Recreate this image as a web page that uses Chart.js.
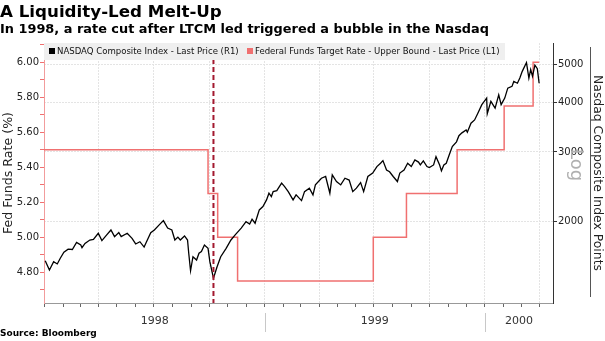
<!DOCTYPE html>
<html>
<head>
<meta charset="utf-8">
<script src="https://cdn.jsdelivr.net/npm/chart.js@4"></script>
<style>
  body { margin: 0; background: #fff; }
  #wrap { position: relative; width: 605px; height: 341px; overflow: hidden; font-family: "DejaVu Sans", sans-serif; }
  #chart { position: absolute; left: 0; top: 0; }
  .title { position: absolute; left: 0; top: 1px; font-weight: bold; font-size: 16.7px; color: #000; white-space: nowrap; }
  .subtitle { position: absolute; left: 0; top: 21px; font-weight: bold; font-size: 12.9px; color: #000; white-space: nowrap; }
  .source { position: absolute; left: 0; top: 328px; font-weight: bold; font-size: 9px; color: #000; }
  .legend { position: absolute; left: 44px; top: 43px; width: 461px; height: 17px; background: #efefef; font-size: 9.5px; color: #111; white-space: nowrap; }
  .legend span.sw { display: inline-block; width: 6px; height: 6px; margin: 0 2px 0 5px; vertical-align: 0px; }
  .legend .item { position: absolute; top: 2px; font-family: "DejaVu Sans Condensed", "DejaVu Sans", sans-serif; }
  .log { position: absolute; left: 570px; top: 149px; font-size: 18px; color: #b0b0b0; transform-origin: 0 0; transform: rotate(90deg) translate(0, -18px); }
  .sep { position: absolute; left: 590px; top: 47px; width: 1px; height: 250px; background: #555; }
</style>
</head>
<body>
<div id="wrap">
  <canvas id="chart" width="605" height="341"></canvas>
  <div class="title">A Liquidity-Led Melt-Up</div>
  <div class="subtitle">In 1998, a rate cut after LTCM led triggered a bubble in the Nasdaq</div>
  <div class="legend">
    <div class="item" style="left:0"><span class="sw" style="background:#000"></span>NASDAQ Composite Index - Last Price (R1)</div>
    <div class="item" style="left:198px"><span class="sw" style="background:#f07070"></span>Federal Funds Target Rate - Upper Bound - Last Price (L1)</div>
  </div>
  <div class="log">Log</div>
  <div class="sep"></div>
  <div class="source">Source: Bloomberg</div>
</div>
<script>
// Nasdaq Composite (right axis, log)
const nasdaqDates = [
  "1998-01-02","1998-01-09","1998-01-16","1998-01-22","1998-01-27","1998-02-02","1998-02-09","1998-02-16",
  "1998-02-23","1998-03-02","1998-03-04","1998-03-09","1998-03-17","1998-03-23","1998-03-31","1998-04-06",
  "1998-04-14","1998-04-21","1998-04-27","1998-05-04","1998-05-08","1998-05-18","1998-05-26","1998-06-01",
  "1998-06-08","1998-06-15","1998-06-19","1998-06-26","1998-07-02","1998-07-10","1998-07-17","1998-07-24",
  "1998-07-31","1998-08-05","1998-08-10","1998-08-14","1998-08-21","1998-08-26","1998-08-28","1998-08-31",
  "1998-09-04","1998-09-10","1998-09-14","1998-09-18","1998-09-23","1998-09-29","1998-10-02","1998-10-08",
  "1998-10-14","1998-10-20","1998-10-29","1998-11-06","1998-11-13","1998-11-23","1998-12-01","1998-12-07",
  "1998-12-11","1998-12-16","1998-12-23","1998-12-29",
  "1999-01-04","1999-01-08","1999-01-12","1999-01-15","1999-01-21","1999-01-29","1999-02-03","1999-02-09",
  "1999-02-17","1999-02-22","1999-03-03","1999-03-08","1999-03-16","1999-03-22","1999-03-26","1999-04-05",
  "1999-04-12","1999-04-19","1999-04-23","1999-04-30","1999-05-07","1999-05-14","1999-05-21","1999-05-27",
  "1999-06-02","1999-06-09","1999-06-14","1999-06-21","1999-06-29","1999-07-06","1999-07-12","1999-07-16",
  "1999-07-22","1999-07-27","1999-08-02","1999-08-09","1999-08-13","1999-08-20","1999-08-26","1999-09-01",
  "1999-09-07","1999-09-13","1999-09-16","1999-09-21","1999-09-27","1999-10-01","1999-10-08","1999-10-12",
  "1999-10-18","1999-10-21","1999-10-25","1999-10-29","1999-11-03","1999-11-08","1999-11-15","1999-11-19",
  "1999-11-24","1999-12-01","1999-12-03","1999-12-09","1999-12-15","1999-12-20","1999-12-27","1999-12-31",
  "2000-01-04","2000-01-05","2000-01-11","2000-01-18","2000-01-24","2000-01-28","2000-02-03","2000-02-08",
  "2000-02-15","2000-02-18","2000-02-24","2000-02-28","2000-03-03","2000-03-10","2000-03-14","2000-03-17",
  "2000-03-20","2000-03-24","2000-03-28","2000-03-31"
];
const nasdaqValues = [
  1593,1509,1584,1563,1616,1673,1704,1700,
  1771,1745,1718,1762,1797,1804,1869,1790,
  1851,1905,1832,1876,1832,1869,1814,1756,
  1779,1724,1779,1876,1905,1962,2012,1926,
  1905,1797,1827,1797,1840,1797,1664,1502,
  1630,1599,1664,1680,1745,1712,1584,1439,
  1538,1630,1712,1797,1851,1926,2000,1973,
  2028,1981,2141,2183,
  2270,2360,2314,2382,2396,2502,2452,2382,
  2270,2337,2260,2382,2430,2337,2477,2575,
  2601,2360,2627,2526,2477,2575,2548,2382,
  2430,2510,2382,2601,2653,2756,2810,2853,
  2702,2674,2601,2526,2653,2702,2810,2756,
  2866,2829,2782,2848,2756,2740,2782,2920,
  2782,2688,2782,2810,2953,3097,3183,3298,
  3354,3412,3365,3549,3616,3748,3952,4028,
  4107,3748,4028,3873,4183,3952,4107,4352,
  4397,4525,4478,4614,4798,5050,4614,4851,
  4663,4977,4875,4478
];

// Fed funds target (left axis), value holds until next date
const fedDates = ["1997-12-31","1998-09-29","1998-10-15","1998-11-17","1999-06-30","1999-08-24","1999-11-16","2000-02-02","2000-03-21","2000-03-31"];
const fedRates = [5.50, 5.25, 5.00, 4.75, 5.00, 5.25, 5.50, 5.75, 6.00, 6.00];

const xStart = "1997-12-31";
const xEnd = "2000-04-23";
const markerDate = "1998-10-08";
const yearLabels = ["1998", "1999", "2000"];
const leftTicks = [4.7, 4.8, 4.9, 5.0, 5.1, 5.2, 5.3, 5.4, 5.5, 5.6, 5.7, 5.8, 5.9, 6.0, 6.1];
const rightTicks = [2000, 3000, 4000, 5000];

const DAY = 86400000;
const epoch = Date.parse("1998-01-01");
const toDay = s => (Date.parse(s) - epoch) / DAY;

const xMin = toDay(xStart), xMax = toDay(xEnd);

// monthly tick marks, quarterly grid
const monthTicks = [];
for (let y = 1998; y <= 2000; y++) {
  for (let m = 1; m <= 12; m++) {
    const d = toDay(`${y}-${String(m).padStart(2, "0")}-01`);
    if (d > xMin && d < xMax) monthTicks.push({ value: d, month: m });
  }
}
const yearBounds = yearLabels.map(y => toDay(`${y}-01-01`));
const yearMids = yearLabels.map((y, i) => {
  const a = Math.max(yearBounds[i], xMin);
  const b = i + 1 < yearBounds.length ? yearBounds[i + 1] : xMax;
  return (a + b) / 2;
});

const overlay = {
  id: "overlay",
  afterDatasetsDraw(chart) {
    const { ctx, chartArea, scales } = chart;
    const x = scales.x.getPixelForValue(toDay(markerDate));
    ctx.save();
    ctx.strokeStyle = "#a3192f";
    ctx.lineWidth = 2;
    ctx.setLineDash([5, 3]);
    ctx.beginPath();
    ctx.moveTo(x, chartArea.top);
    ctx.lineTo(x, chartArea.bottom);
    ctx.stroke();
    ctx.restore();
  },
  afterDraw(chart) {
    const { ctx, chartArea, scales } = chart;
    ctx.save();
    ctx.strokeStyle = "#c8c8c8";
    ctx.lineWidth = 1;
    yearBounds.slice(1).forEach(d => {
      const x = Math.round(scales.x.getPixelForValue(d)) + 0.5;
      ctx.beginPath();
      ctx.moveTo(x, chartArea.bottom + 10);
      ctx.lineTo(x, chartArea.bottom + 29);
      ctx.stroke();
    });
    ctx.restore();
  }
};

new Chart(document.getElementById("chart"), {
  type: "line",
  data: {
    datasets: [
      {
        label: "NASDAQ Composite Index - Last Price (R1)",
        data: nasdaqDates.map((d, i) => ({ x: toDay(d), y: nasdaqValues[i] })),
        yAxisID: "yR",
        borderColor: "#000",
        borderWidth: 1.3,
        pointRadius: 0,
        tension: 0
      },
      {
        label: "Federal Funds Target Rate - Upper Bound - Last Price (L1)",
        data: fedDates.map((d, i) => ({ x: toDay(d), y: fedRates[i] })),
        yAxisID: "yL",
        borderColor: "#f07070",
        borderWidth: 1.5,
        pointRadius: 0,
        stepped: true
      }
    ]
  },
  options: {
    responsive: false,
    animation: false,
    layout: { padding: { top: 43, right: 0, bottom: 14, left: 0 } },
    plugins: { legend: { display: false }, tooltip: { enabled: false } },
    scales: {
      x: {
        type: "linear",
        min: xMin,
        max: xMax,
        afterBuildTicks: s => { s.ticks = monthTicks.map(t => ({ value: t.value })); },
        afterFit: s => { s.height = 4; },
        ticks: { display: false },
        grid: {
          color: c => {
            const t = monthTicks.find(m => m.value === (c.tick && c.tick.value));
            return t && (t.month - 1) % 3 === 0 ? "#e4e4e4" : "rgba(0,0,0,0)";
          },
          tickColor: "#666",
          tickLength: 4
        },
        border: { color: "#999", dash: [2, 1] }
      },
      x2: {
        type: "linear",
        position: "bottom",
        min: xMin,
        max: xMax,
        afterBuildTicks: s => { s.ticks = yearMids.map(v => ({ value: v })); },
        afterFit: s => { s.height = 20; },
        ticks: {
          autoSkip: false,
          maxRotation: 0,
          padding: 8,
          color: "#333",
          font: { family: "DejaVu Sans", size: 11 },
          callback: (v, i) => yearLabels[i]
        },
        grid: { display: false, drawTicks: false },
        border: { display: false }
      },
      yL: {
        type: "linear",
        position: "left",
        min: 4.625,
        max: 6.11,
        afterBuildTicks: s => { s.ticks = leftTicks.map(v => ({ value: v })); },
        afterFit: s => { s.width = 44; },
        ticks: {
          padding: 1,
          color: "#222",
          font: { family: "DejaVu Sans", size: 10 },
          callback: v => (Math.round(v * 10) % 2 === 0 ? v.toFixed(2) : "")
        },
        grid: { drawOnChartArea: false, color: "#f07070", tickLength: 4 },
        border: { color: "#f29c9c" },
        title: {
          display: true,
          text: "Fed Funds Rate (%)",
          color: "#222",
          font: { family: "DejaVu Sans", size: 12.6 },
          padding: { top: 1, bottom: 0 }
        }
      },
      yR: {
        type: "logarithmic",
        position: "right",
        min: 1245,
        max: 5660,
        afterBuildTicks: s => { s.ticks = rightTicks.map(v => ({ value: v })); },
        afterFit: s => { s.width = 52; },
        ticks: {
          padding: 1,
          color: "#222",
          font: { family: "DejaVu Sans", size: 10 },
          callback: v => String(v)
        },
        grid: { color: "#e4e4e4", tickColor: "#333", tickLength: 4 },
        border: { color: "#333", dash: [2, 1] },
        title: {
          display: true,
          text: "Nasdaq Composite Index Points",
          color: "#222",
          font: { family: "DejaVu Sans", size: 12.4 },
          padding: { top: 0, bottom: 0 }
        }
      }
    }
  },
  plugins: [overlay]
});
</script>
</body>
</html>
